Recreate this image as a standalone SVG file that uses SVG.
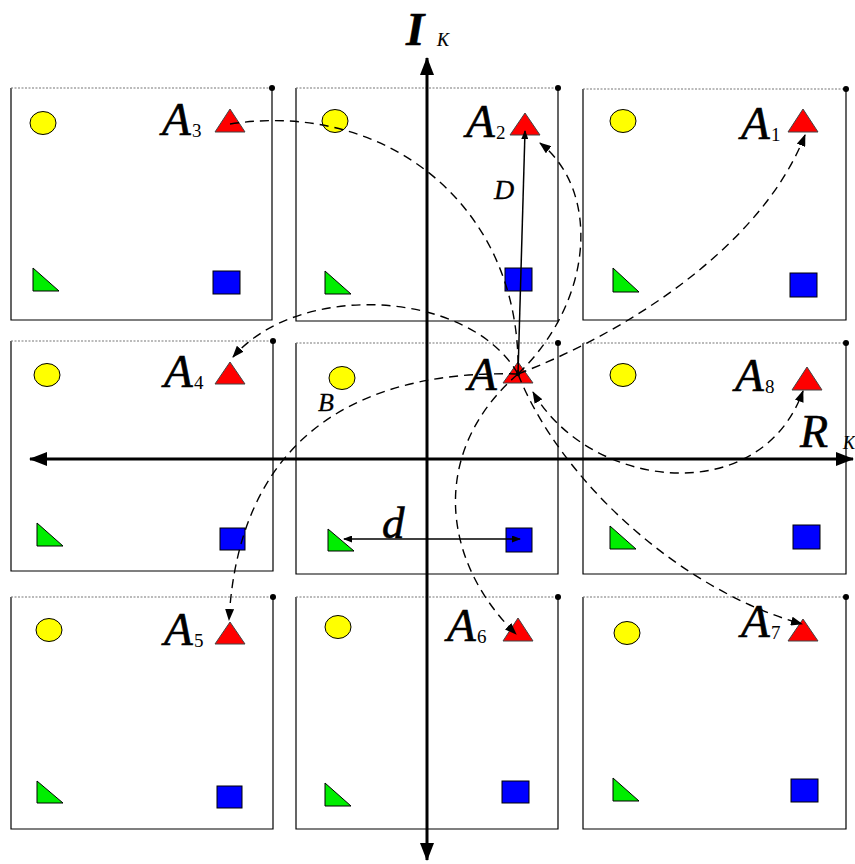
<svg xmlns="http://www.w3.org/2000/svg" width="855" height="864" viewBox="0 0 855 864">
<style>
.box{fill:none;stroke:#000;stroke-width:1.2}
.top{stroke:#777;stroke-width:1.2;stroke-dasharray:2,1.5}
.dot{fill:#000}
.y{fill:#ffff00;stroke:#000;stroke-width:1}
.r{fill:#ff0000;stroke:#444;stroke-width:1}
.g{fill:#00ee00;stroke:#000;stroke-width:1}
.b{fill:#0000ff;stroke:#000;stroke-width:1}
.lbl{font-family:"Liberation Serif","Times New Roman",serif;font-style:italic;font-size:47px;fill:#000;stroke:#000;stroke-width:0.6}
.sub{font-family:"Liberation Serif","Times New Roman",serif;font-size:19px;fill:#000}
.dash{fill:none;stroke:#000;stroke-width:1.4;stroke-dasharray:9,6}
.axis{fill:none;stroke:#000;stroke-width:3}
.thin{fill:none;stroke:#000;stroke-width:1.5}
</style>
<defs>
<marker id="ah" markerWidth="12" markerHeight="9" refX="11" refY="4.5" orient="auto-start-reverse" markerUnits="userSpaceOnUse"><path d="M0,0 L12,4.5 L0,9 z" fill="#000"/></marker>
<marker id="sm" markerWidth="9" markerHeight="7" refX="8" refY="3.5" orient="auto-start-reverse" markerUnits="userSpaceOnUse"><path d="M0,0 L9,3.5 L0,7 z" fill="#000"/></marker>
<marker id="ax" markerWidth="18" markerHeight="14" refX="17" refY="7" orient="auto-start-reverse" markerUnits="userSpaceOnUse"><path d="M0,0 L18,7 L0,14 z" fill="#000"/></marker>
</defs>
<rect width="855" height="864" fill="#fff"/>

<g id="cell1">
<path class="box" d="M11,88 V320 H272 V88"/><path class="top" d="M11,88 H272"/><circle class="dot" cx="272" cy="88" r="3"/>
<ellipse class="y" cx="43" cy="123" rx="13" ry="11.5"/>
<polygon class="r" points="230,109 245,132 215,132"/>
<polygon class="g" points="33,268 33,291 59,291"/>
<rect class="b" x="213" y="271" width="27" height="23"/>
<text class="lbl" x="162" y="135">A</text><text class="sub" x="192" y="137">3</text>
</g>
<g id="cell2">
<path class="box" d="M296,88 V321 H558 V88"/><path class="top" d="M296,88 H558"/><circle class="dot" cx="558" cy="88" r="3"/>
<ellipse class="y" cx="335" cy="121" rx="13" ry="11.5"/>
<polygon class="r" points="525,113 540,135 510,135"/>
<polygon class="g" points="325,271 325,294 351,294"/>
<rect class="b" x="505" y="268" width="27" height="23"/>
<text class="lbl" x="466" y="137">A</text><text class="sub" x="496" y="139">2</text>
</g>
<g id="cell3">
<path class="box" d="M583,89 V320 H846 V89"/><path class="top" d="M583,89 H846"/><circle class="dot" cx="846" cy="89" r="3"/>
<ellipse class="y" cx="623" cy="121" rx="13" ry="11.5"/>
<polygon class="r" points="803,109 818,132 788,132"/>
<polygon class="g" points="613,268 613,292 639,292"/>
<rect class="b" x="790" y="273" width="27" height="24"/>
<text class="lbl" x="741" y="139">A</text><text class="sub" x="771" y="141">1</text>
</g>
<g id="cell4">
<path class="box" d="M11,341 V571 H273 V341"/><path class="top" d="M11,341 H273"/><circle class="dot" cx="273" cy="341" r="3"/>
<ellipse class="y" cx="47" cy="375" rx="13" ry="11.5"/>
<polygon class="r" points="230,362 245,384 215,384"/>
<polygon class="g" points="37,523 37,546 63,546"/>
<rect class="b" x="220" y="528" width="25" height="22"/>
<text class="lbl" x="164" y="387">A</text><text class="sub" x="194" y="389">4</text>
</g>
<g id="cell5">
<path class="box" d="M296,343 V574 H558 V343"/><path class="top" d="M296,343 H558"/><circle class="dot" cx="558" cy="343" r="3"/>
<ellipse class="y" cx="342" cy="378" rx="13" ry="11.5"/>
<polygon class="r" points="518,362 533,383 503,383"/>
<polygon class="g" points="328,529 328,551 354,551"/>
<rect class="b" x="506" y="528" width="26" height="24"/>
<text class="lbl" x="468" y="390">A</text>
<circle class="dot" cx="518" cy="374" r="2.2"/>
</g>
<g id="cell6">
<path class="box" d="M583,343 V574 H846 V343"/><path class="top" d="M583,343 H846"/><circle class="dot" cx="846" cy="343" r="3"/>
<ellipse class="y" cx="623" cy="375" rx="13" ry="11.5"/>
<polygon class="r" points="807,367 822,390 792,390"/>
<polygon class="g" points="610,526 610,549 636,549"/>
<rect class="b" x="793" y="525" width="27" height="24"/>
<text class="lbl" x="735" y="391">A</text><text class="sub" x="765" y="393">8</text>
</g>
<g id="cell7">
<path class="box" d="M11,597 V829 H273 V597"/><path class="top" d="M11,597 H273"/><circle class="dot" cx="273" cy="597" r="3"/>
<ellipse class="y" cx="49" cy="630" rx="13" ry="11.5"/>
<polygon class="r" points="230,622 245,644 215,644"/>
<polygon class="g" points="37,781 37,803 63,803"/>
<rect class="b" x="217" y="786" width="25" height="22"/>
<text class="lbl" x="164" y="645">A</text><text class="sub" x="194" y="647">5</text>
</g>
<g id="cell8">
<path class="box" d="M296,597 V829 H558 V597"/><path class="top" d="M296,597 H558"/><circle class="dot" cx="558" cy="597" r="3"/>
<ellipse class="y" cx="338" cy="627" rx="13" ry="11.5"/>
<polygon class="r" points="518,618 533,641 503,641"/>
<polygon class="g" points="325,783 325,806 351,806"/>
<rect class="b" x="502" y="781" width="27" height="22"/>
<text class="lbl" x="447" y="641">A</text><text class="sub" x="477" y="643">6</text>
</g>
<g id="cell9">
<path class="box" d="M583,597 V829 H846 V597"/><path class="top" d="M583,597 H846"/><circle class="dot" cx="846" cy="597" r="3"/>
<ellipse class="y" cx="627" cy="633" rx="13" ry="11.5"/>
<polygon class="r" points="803,619 818,641 788,641"/>
<polygon class="g" points="613,778 613,801 639,801"/>
<rect class="b" x="791" y="779" width="27" height="23"/>
<text class="lbl" x="741" y="637">A</text><text class="sub" x="771" y="639">7</text>
</g>

<g id="connectors">
<path class="axis" d="M427,860 V58" marker-start="url(#ax)" marker-end="url(#ax)"/>
<path class="axis" d="M30,459 H853" marker-start="url(#ax)" marker-end="url(#ax)"/>
<path class="thin" d="M518,374 L525,131" marker-end="url(#sm)"/>
<path class="thin" d="M344,539 H520" marker-start="url(#sm)" marker-end="url(#sm)"/>
<path class="dash" d="M230,124 C385,100 522,205 518,374"/>
<path class="dash" d="M518,374 C595,300 600,190 540,143" marker-end="url(#ah)"/>
<path class="dash" d="M518,374 C620,335 760,250 805,135" marker-end="url(#ah)"/>
<path class="dash" d="M518,374 C470,290 300,280 233,357" marker-end="url(#ah)"/>
<path class="dash" d="M518,374 C380,370 240,420 229,620" marker-end="url(#ah)"/>
<path class="dash" d="M518,374 C430,450 440,560 516,634" marker-end="url(#ah)"/>
<path class="dash" d="M518,374 C560,480 680,590 802,624" marker-end="url(#ah)"/>
<path class="dash" d="M533,392 C590,490 760,510 803,391" marker-start="url(#ah)" marker-end="url(#ah)"/>
</g>

<g id="labels">
<text class="lbl" x="406" y="45" style="font-size:47px;font-weight:bold">I</text><text class="lbl" x="437" y="46" style="font-size:18px;stroke-width:0.2">K</text>
<text class="lbl" x="800" y="447" style="font-size:46px">R</text><text class="lbl" x="843" y="449" style="font-size:18px;stroke-width:0.2">K</text>
<text class="lbl" x="494" y="199" style="font-size:28px;stroke-width:0.3">D</text>
<text class="lbl" x="318" y="411" style="font-size:26px;stroke-width:0.3">B</text>
<text class="lbl" x="382" y="538" style="font-size:45px">d</text>
</g>
</svg>
